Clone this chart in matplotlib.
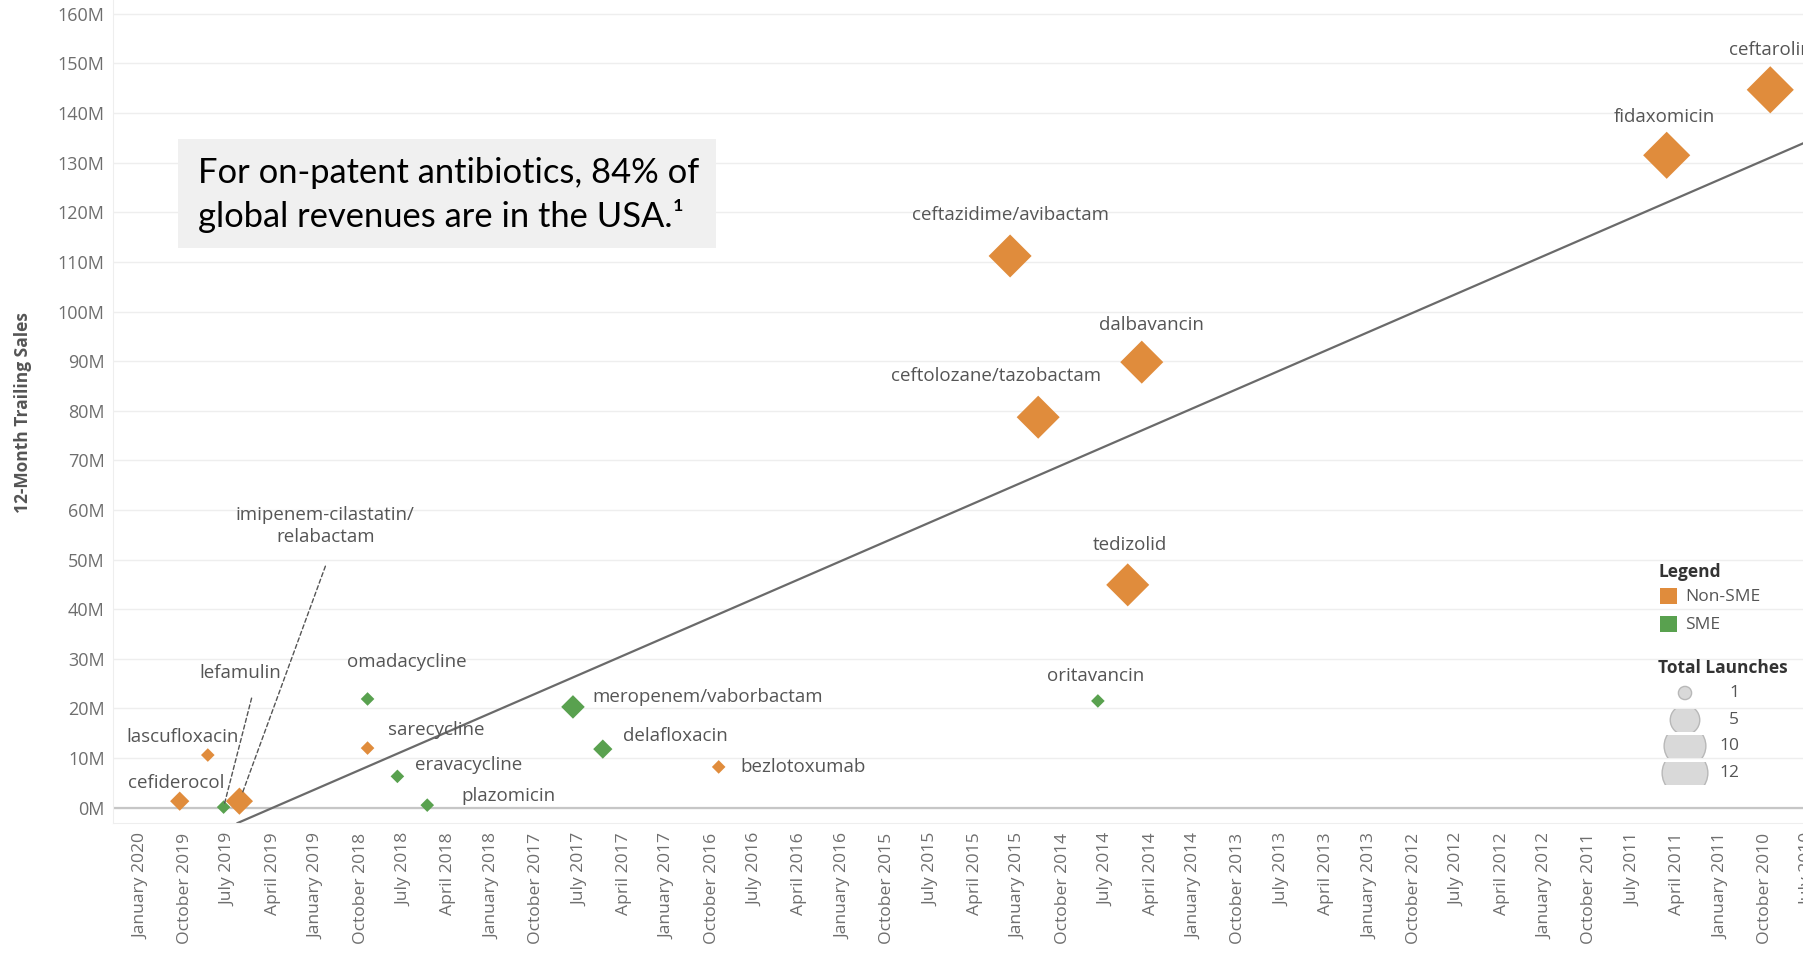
import matplotlib
matplotlib.use("Agg")
import matplotlib.pyplot as plt
from matplotlib.patches import Rectangle, Circle

# launch data (x = launch date as decimal year, y = 12-month trailing sales in $M)
drugs = ["cefiderocol", "lascufloxacin", "lefamulin", "imipenem-cilastatin/\nrelabactam",
         "omadacycline", "sarecycline", "eravacycline", "plazomicin",
         "meropenem/vaborbactam", "delafloxacin", "bezlotoxumab",
         "ceftazidime/avibactam", "ceftolozane/tazobactam", "oritavancin",
         "tedizolid", "dalbavancin", "fidaxomicin", "ceftaroline"]
launch_year = [2019.78, 2019.62, 2019.53, 2019.44,
               2018.71, 2018.71, 2018.54, 2018.37,
               2017.54, 2017.37, 2016.71,
               2015.05, 2014.89, 2014.55,
               2014.38, 2014.30, 2011.31, 2010.72]
sales_m = [1.3, 10.6, 0.1, 1.3,
           21.9, 12.0, 6.3, 0.5,
           20.3, 11.8, 8.2,
           111.2, 78.7, 21.5,
           44.9, 89.8, 131.5, 144.7]
is_sme = [False, False, True, False,
          True, False, True, True,
          True, True, False,
          False, False, True,
          False, False, False, False]
total_launches = [2, 1, 1, 4,
                  1, 1, 1, 1,
                  3, 2, 1,
                  10, 10, 1,
                  10, 10, 12, 12]

trend_year = [2019.45, 2010.54]
trend_sales = [-3.1, 133.8]

legend_launches = [1, 5, 10, 12]

month_names = ["January", "April", "July", "October"]
tick_years = [2020 - 0.25 * i for i in range(39)]
tick_labels = []
for t in tick_years:
    yr = int(t // 1)
    q = int(round((t - yr) * 4))
    tick_labels.append(f"{month_names[q]} {yr}")

ytick_vals = list(range(0, 161, 10))

ORANGE = "#E08C3C"
GREEN = "#59A14F"

# label placement, offsets in pixels from the marker
label_pos = {
    "cefiderocol": (-4, 18, "center"),
    "lascufloxacin": (-25, 18, "center"),
    "lefamulin": (17, 134, "center"),
    "imipenem-cilastatin/\nrelabactam": (86, 275, "center"),
    "omadacycline": (39, 37, "center"),
    "sarecycline": (69, 18, "center"),
    "eravacycline": (71, 11, "center"),
    "plazomicin": (81, 9, "center"),
    "meropenem/vaborbactam": (19, 10, "left"),
    "delafloxacin": (20, 13, "left"),
    "bezlotoxumab": (22, 0, "left"),
    "ceftazidime/avibactam": (0, 41, "center"),
    "ceftolozane/tazobactam": (-42, 41, "center"),
    "oritavancin": (-2, 25, "center"),
    "tedizolid": (2, 40, "center"),
    "dalbavancin": (10, 37, "center"),
    "fidaxomicin": (-2, 38, "center"),
    "ceftaroline": (5, 40, "center"),
}
# dashed leader lines: start offset (px), shrink at marker (pt)
leaders = {
    "lefamulin": (28, 109, 3),
    "imipenem-cilastatin/\nrelabactam": (86, 235, 6),
}

plt.rcParams['font.family'] = ['Open Sans', 'DejaVu Sans']

W, H = 1803, 955
fig = plt.figure(figsize=(W / 100, H / 100), dpi=100)
ax = fig.add_axes([113 / W, 132 / H, 1731 / W, 823 / H])

ax.set_xlim(2020.16, 2010.3)
ax.set_ylim(-3.1, 162.8)

ax.set_yticks(ytick_vals)
ax.set_yticklabels([f"{v}M" for v in ytick_vals])
ax.set_xticks(tick_years)
ax.set_xticklabels(tick_labels, rotation=90)
ax.tick_params(axis='both', length=0, labelcolor='#6e6e6e')
ax.tick_params(axis='x', pad=7, labelsize=12.6)
ax.tick_params(axis='y', pad=6, labelsize=13)

ax.yaxis.grid(True, color='#eeeeee', lw=1)
ax.set_axisbelow(True)
ax.axhline(0, color='#c6c6c6', lw=1.6, zorder=1)
for side in ['top', 'right']:
    ax.spines[side].set_visible(False)
for side in ['left', 'bottom']:
    ax.spines[side].set_color('#eeeeee')

ax.axline((trend_year[0], trend_sales[0]), (trend_year[1], trend_sales[1]),
          color='#6a6a6a', lw=1.6, zorder=2)

colors = [GREEN if s else ORANGE for s in is_sme]
sizes = [48 * n for n in total_launches]
ax.scatter(launch_year, sales_m, s=sizes, c=colors, marker='D', linewidths=0, zorder=3)

for name, x, y in zip(drugs, launch_year, sales_m):
    dx, dy, ha = label_pos[name]
    ax.annotate(name, (x, y), xytext=(dx, dy), textcoords='offset pixels',
                ha=ha, va='center', fontsize=13.5, color='#555555',
                linespacing=1.3, zorder=4)
    if name in leaders:
        lx, ly, sb = leaders[name]
        ax.annotate('', (x, y), xytext=(lx, ly), textcoords='offset pixels',
                    arrowprops=dict(arrowstyle='-', linestyle=(0, (3, 2)),
                                    color='#555555', lw=1, shrinkA=0, shrinkB=sb),
                    zorder=4)

# overlay in pixel coordinates for the callout, axis title and legends
ov = fig.add_axes([0, 0, 1, 1], facecolor='none')
ov.set_xlim(0, W)
ov.set_ylim(H, 0)
ov.axis('off')

ov.text(23, 413, "12-Month Trailing Sales", rotation=90, ha='center', va='center',
        fontsize=12.5, fontweight='bold', color='#555555')

ov.add_patch(Rectangle((178, 139), 538, 109, facecolor='#f0f0f0', edgecolor='none'))
box_font = ['Lato', 'DejaVu Sans']
ov.text(198, 183, "For on-patent antibiotics, 84% of", ha='left', va='baseline',
        fontsize=24.8, family=box_font, color='black')
ov.text(198, 227, "global revenues are in the USA.\u00b9", ha='left', va='baseline',
        fontsize=24.8, family=box_font, color='black')

ov.text(1658, 572, "Legend", ha='left', va='center', fontsize=12.5,
        fontweight='bold', color='#333333')
ov.add_patch(Rectangle((1660, 588), 17, 16, facecolor=ORANGE, edgecolor='none'))
ov.text(1685, 597, "Non-SME", ha='left', va='center', fontsize=12.5, color='#555555')
ov.add_patch(Rectangle((1660, 616), 17, 16, facecolor=GREEN, edgecolor='none'))
ov.text(1685, 625, "SME", ha='left', va='center', fontsize=12.5, color='#555555')

ov.text(1658, 668, "Total Launches", ha='left', va='center', fontsize=12.5,
        fontweight='bold', color='#333333')
row_y = [693, 720, 746, 773]
for n, ry in zip(legend_launches, row_y):
    r = 6.6 * n ** 0.5
    c = Circle((1685, ry), r, facecolor='#d9d9d9', edgecolor='#b8b8b8', lw=1)
    ov.add_patch(c)
    clip = Rectangle((1600, ry - 11.5), 200, 23, transform=ov.transData)
    c.set_clip_path(clip)
    ov.text(1739, ry, str(n), ha='right', va='center', fontsize=12.5, color='#555555')

fig.savefig("out.png", dpi=100)
